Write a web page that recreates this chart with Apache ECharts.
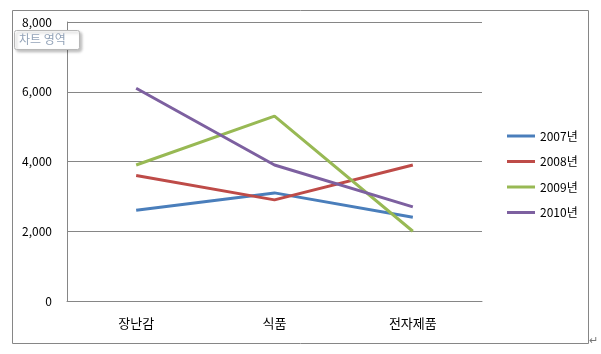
<!DOCTYPE html>
<html>
<head>
<meta charset="utf-8">
<script src="https://cdn.jsdelivr.net/npm/echarts@6/dist/echarts.min.js"></script>
<style>
  html, body { margin: 0; padding: 0; background: #fff; }
  #chart { width: 601px; height: 354px; }
</style>
</head>
<body>
<div id="chart"></div>
<script>
var categories = ["장난감", "식품", "전자제품"];
var seriesNames = ["2007년", "2008년", "2009년", "2010년"];
var values2007 = [2600, 3100, 2400];
var values2008 = [3600, 2900, 3900];
var values2009 = [3900, 5300, 2000];
var values2010 = [6100, 3900, 2700];
var colors = ["#4a7ebb", "#be4b48", "#98b954", "#7d60a0"];

var font = "'Noto Sans CJK KR', 'Noto Sans', sans-serif";
var allValues = [values2007, values2008, values2009, values2010];

var chart = echarts.init(document.getElementById("chart"), null, { renderer: "canvas" });

var series = seriesNames.map(function (name, i) {
  return {
    name: name,
    type: "line",
    data: allValues[i],
    symbol: "none",
    color: colors[i],
    lineStyle: { width: 3, color: colors[i] },
    animation: false
  };
});

chart.setOption({
  animation: false,
  textStyle: { fontFamily: font },
  grid: { left: 67, top: 22, right: 119, bottom: 53 },
  legend: {
    data: seriesNames.map(function (n) { return { name: n, icon: "rect" }; }),
    orient: "vertical",
    left: 502,
    top: 125,
    itemWidth: 28,
    itemHeight: 3,
    itemGap: 13.5,
    textStyle: { fontSize: 12, color: "#000", fontFamily: font }
  },
  xAxis: {
    type: "category",
    data: categories,
    boundaryGap: true,
    axisLine: { lineStyle: { color: "#868686", width: 1 } },
    axisTick: { show: false },
    axisLabel: { color: "#000", fontSize: 13, margin: 16, fontFamily: font }
  },
  yAxis: {
    type: "value",
    min: 0,
    max: 8000,
    interval: 2000,
    axisLine: { show: true, lineStyle: { color: "#868686", width: 1 } },
    axisTick: { show: false },
    splitLine: { lineStyle: { color: "#868686", width: 1 } },
    axisLabel: {
      color: "#000",
      fontSize: 12,
      margin: 15,
      fontFamily: font,
      formatter: function (v) { return v.toLocaleString("en-US"); }
    }
  },
  graphic: [
    {
      type: "rect",
      shape: { x: 12.5, y: 10.5, width: 576, height: 333 },
      style: { fill: null, stroke: "#868686", lineWidth: 1 },
      silent: true,
      z: 0
    },
    {
      type: "rect",
      shape: { x: 14.5, y: 30.5, width: 65, height: 19, r: 2 },
      style: {
        fill: "#fff",
        stroke: "#b8b8b8",
        lineWidth: 1,
        shadowBlur: 3,
        shadowOffsetX: 2,
        shadowOffsetY: 2,
        shadowColor: "rgba(0,0,0,0.25)"
      },
      z: 100
    },
    {
      type: "text",
      left: 19,
      top: 33,
      style: { text: "차트 영역", fill: "#93a3b8", font: "12px " + font },
      z: 101
    },
    {
      type: "text",
      left: 589,
      top: 334,
      style: { text: "↵", fill: "#777", font: "11px " + font },
      z: 101
    }
  ],
  series: series
});
</script>
</body>
</html>
